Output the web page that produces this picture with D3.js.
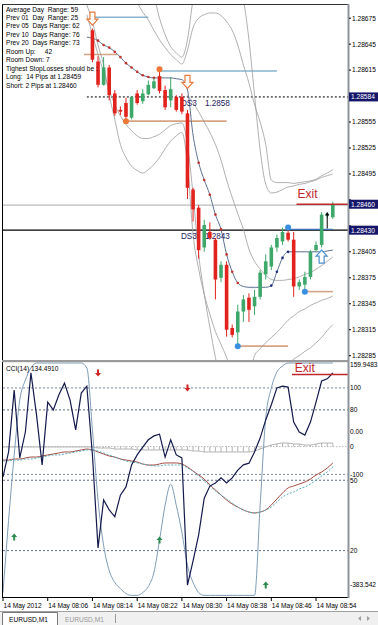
<!DOCTYPE html>
<html>
<head>
<meta charset="utf-8">
<script src="https://cdnjs.cloudflare.com/ajax/libs/d3/7.8.5/d3.min.js"></script>
<style>
  body { margin: 0; background: #fff; }
  svg { display: block; font-family: "Liberation Sans", Arial, sans-serif; }
  svg text { white-space: pre; }
</style>
</head>
<body>
<div id="chart"></div>
<script>
// EURUSD M1, 14 May 2012 07:58 .. 08:57 (bar index 0 = 07:58)

// candles, bars 16..59
const candleStart = 16;
const opens = [1.28661,1.28625,1.28598,1.28618,1.28588,1.28569,1.28577,1.28560,1.28588,1.28579,1.28587,1.28594,1.28608,1.28592,1.28580,1.28584,1.28584,1.28565,1.28477,1.28456,1.28410,1.28428,1.28419,1.28375,1.28390,1.28317,1.28312,1.28336,1.28352,1.28342,1.28353,1.28379,1.28388,1.28410,1.28417,1.28427,1.28419,1.28365,1.28367,1.28376,1.28407,1.28413,1.28447,1.28445];
const highs = [1.28663,1.28631,1.28630,1.28621,1.28592,1.28573,1.28583,1.28585,1.28592,1.28593,1.28603,1.28606,1.28613,1.28597,1.28607,1.28586,1.28588,1.28569,1.28479,1.28459,1.28442,1.28439,1.28421,1.28394,1.28394,1.28321,1.28344,1.28355,1.28357,1.28361,1.28384,1.28402,1.28413,1.28425,1.28433,1.28433,1.28428,1.28373,1.28382,1.28407,1.28417,1.28451,1.28450,1.28463];
const lows = [1.28624,1.28595,1.28597,1.28580,1.28562,1.28563,1.28556,1.28558,1.28575,1.28576,1.28586,1.28593,1.28588,1.28569,1.28572,1.28567,1.28564,1.28466,1.28440,1.28397,1.28405,1.28419,1.28350,1.28370,1.28307,1.28306,1.28296,1.28324,1.28324,1.28332,1.28350,1.28373,1.28384,1.28405,1.28413,1.28417,1.28353,1.28361,1.28359,1.28373,1.28405,1.28410,1.28444,1.28443];
const closes = [1.28627,1.28598,1.28618,1.28586,1.28565,1.28567,1.28561,1.28584,1.28577,1.28588,1.28598,1.28602,1.28591,1.28572,1.28593,1.28569,1.28567,1.28479,1.28454,1.28407,1.28436,1.28421,1.28373,1.28390,1.28315,1.28309,1.28336,1.28350,1.28338,1.28353,1.28381,1.28394,1.28410,1.28421,1.28428,1.28419,1.28365,1.28370,1.28376,1.28405,1.28413,1.28448,1.28449,1.28460];

// trend line with coloured dots, bars 15..59
const trendStart = 15;
const trendLine = [1.28653,1.28652,1.28649,1.28644,1.28641,1.28636,1.28630,1.28623,1.28618,1.28613,1.28609,1.28607,1.28606,1.28606,1.28606,1.28606,1.28605,1.28604,1.28592,1.28540,1.28508,1.28488,1.28471,1.28448,1.28431,1.28402,1.28382,1.28369,1.28365,1.28364,1.28364,1.28364,1.28364,1.28366,1.28382,1.28398,1.28405,1.28405,1.28405,1.28405,1.28405,1.28405,1.28405,1.28406,1.28407];
const trendRedDots = [17,18,19,20,21,22,23,24,25,26,27,28,35,36,37,38,39,40,41,42];
const trendBlueDots = [48,49,50,51];

// envelope bands
const upper1Start = 22;
const upper1 = [1.28713,1.28702,1.28693,1.28682,1.28673,1.28661,1.28650,1.28641,1.28633,1.28627,1.28622,1.28638,1.28664,1.28675,1.28679,1.28681,1.28681,1.28678,1.28671,1.28661,1.28644,1.28621,1.28600,1.28575,1.28555,1.28529,1.28488,1.28485,1.28485,1.28485,1.28484,1.28485,1.28486,1.28487,1.28489,1.28493,1.28496,1.28500];
const upper2Start = 27;
const upper2 = [1.28702,1.28675,1.28656,1.28642,1.28635,1.28630,1.28650,1.28696,1.28719,1.28736,1.28742,1.28742,1.28740,1.28733,1.28725,1.28713,1.28696,1.28650,1.28586,1.28523,1.28483,1.28473,1.28474,1.28477,1.28480,1.28481,1.28483,1.28484,1.28486,1.28488,1.28491,1.28493,1.28495];
const midStart = 33;
const midBand = [1.28586,1.28577,1.28567,1.28555,1.28543,1.28529,1.28511,1.28488,1.28468,1.28449,1.28431,1.28408,1.28394,1.28385,1.28378,1.28373,1.28372,1.28372,1.28373,1.28374,1.28376,1.28379,1.28381,1.28385,1.28389,1.28394,1.28399];
const lowerStart = 15;
const lower1 = [1.28679,1.28656,1.28633,1.28613,1.28592,1.28575,1.28562,1.28552,1.28545,1.28539,1.28536,1.28536,1.28538,1.28541,1.28546,1.28551,1.28553,1.28554,1.28529,1.28471,1.28402,1.28356,1.28318,1.28283,1.28252,1.28234,1.28223,1.28223,1.28234,1.28258,1.28285,1.28293,1.28300,1.28306,1.28312,1.28319,1.28326,1.28331,1.28336,1.28339,1.28343,1.28346,1.28349,1.28351,1.28354];
const lower2 = [1.28690,1.28671,1.28644,1.28621,1.28586,1.28558,1.28529,1.28514,1.28504,1.28499,1.28496,1.28500,1.28506,1.28514,1.28524,1.28533,1.28539,1.28543,1.28506,1.28425,1.28385,1.28356,1.28333,1.28313,1.28298,1.28283,1.28263,1.28240,1.28223,1.28211,1.28211,1.28217,1.28229,1.28240,1.28252,1.28263,1.28275,1.28281,1.28285,1.28290,1.28294,1.28300,1.28306,1.28314,1.28321];

// levels: [fromBar, toBar, price]
const blueSegs = [[16, 26, 1.28676], [28, 49, 1.28614]];
const tanSegs = [[14.5, 20.5, 1.28633], [22, 40, 1.28556], [42, 51, 1.28296], [54, 59, 1.28359]];
const swingSegs = [[51, 59, 1.28431]];
const orangeDots = [[22, 1.28556], [28, 1.28616]];
const blueDots = [[42, 1.28296], [51, 1.28433], [54, 1.28359]];
const hollowDown = [[16, 1.28682], [33, 1.28609]];
const hollowUp = [[57, 1.28407]];
const buyArrow = [58, 1.28432, 1.28450];
const dsLabels = [[32, 1.28577, "DS3", "1.2858"], [32, 1.28423, "DS3", "1.2843"]];
const longPrice = 1.28459, shortPrice = 1.28460, openLine = 1.28430, dayLine = 1.28584;
const exitFrom = 52.5;

const infoLines = [
  "Average Day  Range: 59",
  "Prev 01  Day  Range: 25",
  "Prev 05  Days Range: 62",
  "Prev 10  Days Range: 76",
  "Prev 20  Days Range: 73",
  "Room Up:     42",
  "Room Down: 7",
  "Tighest StopLosses should be :",
  "Long:  14 Pips at 1.28459",
  "Short: 2 Pips at 1.28460"
];

const priceTicks = [1.28675,1.28645,1.28615,1.28585,1.28555,1.28525,1.28495,1.28465,1.28435,1.28405,1.28375,1.28345,1.28315,1.28285];
const priceBoxes = [dayLine, shortPrice, openLine];

// lower window, bars 0..59
const cci = [-106,-48,95,-62,-2,135,37,-78,67,49,84,111,72,3,88,104,-55,-270,-159,-182,-198,-148,-129,-78,-55,-37,-20,-11,-7,-60,-20,-55,-62,-356,-300,-240,-155,-127,-120,-108,-120,-108,-90,-78,-74,-48,-16,26,61,100,104,102,21,-2,-9,21,67,116,121,134.491];
const stoch = [2.1,32.9,60.7,84.2,92.7,97.9,100,100,100,100,100,100,100,100,100,97.9,71.4,41.5,22.2,11.5,6.4,3.8,1.7,0.9,0.9,2.1,4.7,10.7,24.4,39.3,48.3,39.3,27.8,13.7,6.4,2.1,0.9,0.9,0.9,0.9,0.9,0.9,0.9,0.9,0.9,0.9,39.3,76.5,89.3,96.2,98.7,100,100,100,100,100,100,100,100,100];
const macd = [-14.3,-14.3,-13.2,-13.2,-12.1,-11.1,-11.1,-10.0,-8.9,-7.9,-6.8,-5.7,-5.7,-4.7,-3.6,-2.6,-3.6,-5.7,-7.9,-10.0,-11.1,-13.2,-14.3,-15.3,-16.4,-18.5,-19.6,-19.6,-18.5,-17.4,-17.4,-17.4,-18.5,-21.7,-26.0,-30.2,-34.5,-40.8,-46.2,-51.5,-56.8,-61.1,-64.3,-67.4,-69.6,-70.6,-69.6,-67.4,-62.1,-55.7,-49.4,-44.0,-41.9,-39.8,-37.7,-34.5,-30.2,-27.0,-22.8,-17.4];
const signal = [-15.3,-15.3,-14.3,-14.3,-13.2,-13.2,-12.1,-11.1,-10.0,-8.9,-8.9,-7.9,-6.8,-5.7,-4.7,-3.6,-3.6,-4.7,-6.8,-8.9,-11.1,-13.2,-15.3,-16.4,-17.4,-18.5,-19.6,-20.6,-20.6,-19.6,-19.6,-19.6,-19.6,-22.8,-26.0,-31.3,-36.6,-41.9,-47.2,-51.5,-55.7,-60.0,-64.3,-67.4,-69.6,-70.6,-69.6,-67.4,-64.3,-58.9,-53.6,-50.4,-48.3,-45.1,-43.0,-39.8,-35.5,-31.3,-27.0,-21.7];
const histo = [-0.4,-0.4,-0.4,-0.4,-0.4,-0.4,-0.4,-0.4,-0.4,-0.4,-0.4,-0.4,-0.4,-0.4,-0.4,-0.4,-0.4,-1.5,-1.5,-1.5,-2.6,-2.6,-2.6,-2.6,-3.6,-3.6,-3.6,-3.6,-3.6,-3.6,-3.6,-3.6,-3.6,-3.6,-4.7,-4.7,-5.7,-5.7,-5.7,-5.7,-5.7,-5.7,-5.7,-5.7,-5.7,-4.7,-2.6,-0.4,1.7,2.8,3.8,3.8,2.8,2.8,1.7,1.7,2.8,3.8,3.8,3.8];
const sellSignals = [[17, 95.7], [33, 89.3]];
const buySignals = [[2, 25.8], [28, 24.5], [47, 5.3]];
const cciExit = 131;

const cciTicks = [[159.9483, "159.9483"], [100, "100"], [0, "0.00"], [-100, "-100"], [-383.542, "-383.542"]];
const stochLevels = [80, 50, 20];
const cciLevels = [100, -100];

const timeBars = [0, 8, 16, 24, 32, 40, 48, 56];
const timeLabels = ["14 May 2012", "14 May 08:06", "14 May 08:14", "14 May 08:22", "14 May 08:30", "14 May 08:38", "14 May 08:46", "14 May 08:54"];

// ---------- chart ----------
const width = 378, height = 625;
const L = 3, axisX = 348;
const mainTop = 4, mainBot = 360, subTop = 362, subBot = 597;
const fs = 6.6;

const svg = d3.select("#chart").append("svg").attr("width", width).attr("height", height);

const x = d3.scaleLinear().domain([0, 60]).range([3, 338.4]);
const y = d3.scaleLinear().domain([1.2828, 1.28696]).range([360, 0]);
const yCci = d3.scaleLinear().domain([-383.542, 159.9483]).range([subBot, subTop]);
const yStoch = d3.scaleLinear().domain([0, 100]).range([597.5, 363]);
const yMacd = d3.scaleLinear().domain([-160, 90]).range([subBot, subTop]);

const defs = svg.append("defs");
defs.append("clipPath").attr("id", "clipMain").append("rect")
  .attr("x", L).attr("y", mainTop).attr("width", axisX - L).attr("height", mainBot - mainTop);
defs.append("clipPath").attr("id", "clipSub").append("rect")
  .attr("x", L).attr("y", subTop).attr("width", axisX - L).attr("height", subBot - subTop);

const series = (start, vals) => vals.map((v, i) => [start + i, v]);
const smoothPrice = d3.line().curve(d3.curveMonotoneX).x(d => x(d[0])).y(d => y(d[1]));

// ---- main window ----
const gMain = svg.append("g").attr("clip-path", "url(#clipMain)");

gMain.append("line").attr("x1", L).attr("x2", axisX).attr("y1", y(longPrice)).attr("y2", y(longPrice))
  .attr("stroke", "#a9a9a9").attr("stroke-width", 1);
gMain.append("line").attr("x1", x(15)).attr("x2", axisX).attr("y1", y(dayLine)).attr("y2", y(dayLine))
  .attr("stroke", "#000").attr("stroke-dasharray", "2,2");
gMain.append("line").attr("x1", L).attr("x2", axisX).attr("y1", y(openLine)).attr("y2", y(openLine))
  .attr("stroke", "#000").attr("stroke-width", 1.3);

gMain.selectAll(".bseg").data(blueSegs).join("line")
  .attr("x1", d => x(d[0])).attr("x2", d => x(d[1])).attr("y1", d => y(d[2])).attr("y2", d => y(d[2]))
  .attr("stroke", "#86b4cf").attr("stroke-width", 1.6);
gMain.selectAll(".tseg").data(tanSegs).join("line")
  .attr("x1", d => x(d[0])).attr("x2", d => x(d[1])).attr("y1", d => y(d[2])).attr("y2", d => y(d[2]))
  .attr("stroke", "#d6a483").attr("stroke-width", 1.6);
gMain.selectAll(".sseg").data(swingSegs).join("line")
  .attr("x1", d => x(d[0])).attr("x2", d => x(d[1])).attr("y1", d => y(d[2])).attr("y2", d => y(d[2]))
  .attr("stroke", "#3f6fb5").attr("stroke-width", 1.3);

// bands
[[upper1Start, upper1], [upper2Start, upper2], [midStart, midBand], [lowerStart, lower1], [lowerStart, lower2]]
  .forEach(([s, v]) => {
    gMain.append("path").attr("d", smoothPrice(series(s, v)))
      .attr("fill", "none").attr("stroke", "#9c9c9c").attr("stroke-width", 0.8);
  });

// trend line + dots
gMain.append("path").attr("d", smoothPrice(series(trendStart, trendLine)))
  .attr("fill", "none").attr("stroke", "#5d7190").attr("stroke-width", 1);
gMain.selectAll(".rdot").data(trendRedDots).join("circle")
  .attr("cx", d => x(d)).attr("cy", d => y(trendLine[d - trendStart])).attr("r", 1.3).attr("fill", "#c2312a");
gMain.selectAll(".bdot").data(trendBlueDots).join("circle")
  .attr("cx", d => x(d)).attr("cy", d => y(trendLine[d - trendStart])).attr("r", 1.3).attr("fill", "#1d2d7d");

// DS3 labels (under candles)
dsLabels.forEach(([b, p, a, t]) => {
  gMain.append("text").attr("x", x(b) - 1).attr("y", y(p) + 3).attr("font-size", 8.2).attr("fill", "#1e2060").text(a);
  gMain.append("text").attr("x", x(b) + 23).attr("y", y(p) + 3).attr("font-size", 8.2).attr("fill", "#1e2060").text(t);
});

// candles
const candles = opens.map((o, i) => ({ bar: candleStart + i, o, h: highs[i], l: lows[i], c: closes[i] }));
const bull = "#3ea86b", bear = "#e2221c";
const gC = gMain.append("g").selectAll("g").data(candles).join("g");
gC.append("line")
  .attr("x1", d => x(d.bar)).attr("x2", d => x(d.bar))
  .attr("y1", d => y(d.h)).attr("y2", d => y(d.l))
  .attr("stroke", d => d.c >= d.o ? bull : bear).attr("stroke-width", 1);
gC.append("rect")
  .attr("x", d => x(d.bar) - 1.8).attr("width", 3.6)
  .attr("y", d => Math.min(y(d.o), y(d.c)))
  .attr("height", d => Math.max(1, Math.abs(y(d.o) - y(d.c))))
  .attr("fill", d => d.c >= d.o ? bull : bear);

// markers
gMain.selectAll(".odot").data(orangeDots).join("circle")
  .attr("cx", d => x(d[0])).attr("cy", d => y(d[1])).attr("r", 3).attr("fill", "#f07636");
gMain.selectAll(".bldot").data(blueDots).join("circle")
  .attr("cx", d => x(d[0])).attr("cy", d => y(d[1])).attr("r", 3).attr("fill", "#3b8fe2");

const downShape = "M-2.5,0 L2.5,0 L2.5,7 L5.5,7 L0,13 L-5.5,7 L-2.5,7 Z";
const upShape = "M0,0 L5.5,6 L2.5,6 L2.5,13 L-2.5,13 L-2.5,6 L-5.5,6 Z";
gMain.selectAll(".hdown").data(hollowDown).join("path")
  .attr("d", downShape).attr("transform", d => `translate(${x(d[0])},${y(d[1])})`)
  .attr("fill", "#fff").attr("stroke", "#e57a3c").attr("stroke-width", 1.2);
gMain.selectAll(".hup").data(hollowUp).join("path")
  .attr("d", upShape).attr("transform", d => `translate(${x(d[0])},${y(d[1])})`)
  .attr("fill", "#fff").attr("stroke", "#4a8fd0").attr("stroke-width", 1.2);

gMain.append("line").attr("x1", x(buyArrow[0])).attr("x2", x(buyArrow[0]))
  .attr("y1", y(buyArrow[1])).attr("y2", y(buyArrow[2])).attr("stroke", "#000").attr("stroke-width", 1);
gMain.append("path")
  .attr("d", `M${x(buyArrow[0])},${y(buyArrow[2]) - 1} l-2,3.5 l4,0 Z`).attr("fill", "#000");

// exit
gMain.append("line").attr("x1", x(exitFrom)).attr("x2", axisX).attr("y1", y(shortPrice)).attr("y2", y(shortPrice))
  .attr("stroke", "#c0262a").attr("stroke-width", 1.6);
gMain.append("text").attr("x", x(exitFrom) + 1).attr("y", y(shortPrice) - 6)
  .attr("font-size", 12).attr("fill", "#c0262a").text("Exit");

// info text
svg.append("g").selectAll("text").data(infoLines).join("text")
  .attr("x", 6).attr("y", (d, i) => 11.5 + i * 8.45)
  .attr("font-size", fs).attr("fill", "#000").text(d => d);

// ---- lower window ----
const gSub = svg.append("g").attr("clip-path", "url(#clipSub)");

gSub.selectAll(".cl").data(cciLevels).join("line")
  .attr("x1", L).attr("x2", axisX).attr("y1", d => yCci(d)).attr("y2", d => yCci(d))
  .attr("stroke", "#7d8a98").attr("stroke-dasharray", "2,2");
gSub.selectAll(".sl").data(stochLevels).join("line")
  .attr("x1", L).attr("x2", axisX).attr("y1", d => yStoch(d)).attr("y2", d => yStoch(d))
  .attr("stroke", "#5f6e7e").attr("stroke-dasharray", "2,2");
gSub.append("line").attr("x1", L).attr("x2", axisX).attr("y1", yMacd(0)).attr("y2", yMacd(0))
  .attr("stroke", "#b9b9b9").attr("stroke-dasharray", "1.5,1.5");

gSub.selectAll(".hb").data(histo).join("line")
  .attr("x1", (d, i) => x(i)).attr("x2", (d, i) => x(i))
  .attr("y1", yMacd(0)).attr("y2", d => yMacd(d))
  .attr("stroke", "#b3b3b3").attr("stroke-width", 1);
const lineOf = (sc, curve) => d3.line().curve(curve).x((d, i) => x(i)).y(d => sc(d));
gSub.append("path").attr("d", lineOf(yMacd, d3.curveMonotoneX)(histo))
  .attr("fill", "none").attr("stroke", "#b3b3b3").attr("stroke-width", 1);
gSub.append("path").attr("d", lineOf(yMacd, d3.curveMonotoneX)(macd))
  .attr("fill", "none").attr("stroke", "#a54a40").attr("stroke-width", 1);
gSub.append("path").attr("d", lineOf(yMacd, d3.curveMonotoneX)(signal))
  .attr("fill", "none").attr("stroke", "#59b0bd").attr("stroke-width", 1).attr("stroke-dasharray", "2,1.5");
gSub.append("path").attr("d", lineOf(yStoch, d3.curveMonotoneX)(stoch))
  .attr("fill", "none").attr("stroke", "#7e9cb6").attr("stroke-width", 1);
gSub.append("path").attr("d", lineOf(yCci, d3.curveLinear)(cci))
  .attr("fill", "none").attr("stroke", "#141a4c").attr("stroke-width", 1.2);

const smallDown = "M-1,-3.5 L1,-3.5 L1,0 L3,0 L0,3.5 L-3,0 L-1,0 Z";
const smallUp = "M0,-3.5 L3,0 L1,0 L1,3.5 L-1,3.5 L-1,0 L-3,0 Z";
gSub.selectAll(".sell").data(sellSignals).join("path")
  .attr("d", smallDown).attr("transform", d => `translate(${x(d[0])},${yStoch(d[1])})`).attr("fill", "#d42121");
gSub.selectAll(".buy").data(buySignals).join("path")
  .attr("d", smallUp).attr("transform", d => `translate(${x(d[0])},${yStoch(d[1])})`).attr("fill", "#2b8a4c");

gSub.append("line").attr("x1", x(51.7)).attr("x2", axisX).attr("y1", yCci(cciExit)).attr("y2", yCci(cciExit))
  .attr("stroke", "#c0262a").attr("stroke-width", 1.6);
gSub.append("text").attr("x", x(52.2)).attr("y", yCci(cciExit) - 2.5)
  .attr("font-size", 12).attr("fill", "#c0262a").text("Exit");

svg.append("text").attr("x", 6).attr("y", 370.5).attr("font-size", fs).attr("fill", "#000")
  .text(`CCI(14) ${cci[cci.length - 1].toFixed(4)}`);

// ---- frames ----
svg.append("line").attr("x1", 2.5).attr("x2", 2.5).attr("y1", mainTop).attr("y2", subBot).attr("stroke", "#000");
svg.append("line").attr("x1", 2).attr("x2", axisX).attr("y1", 4.5).attr("y2", 4.5).attr("stroke", "#333");
svg.append("rect").attr("x", 2).attr("y", 360).attr("width", axisX - 2).attr("height", 2.2).attr("fill", "#9a9a9a");
svg.append("line").attr("x1", 2).attr("x2", axisX).attr("y1", subBot + 0.5).attr("y2", subBot + 0.5).attr("stroke", "#000");
svg.append("line").attr("x1", axisX + 0.5).attr("x2", axisX + 0.5).attr("y1", mainTop).attr("y2", subBot + 1)
  .attr("stroke", "#8e939c").attr("stroke-width", 2);

// ---- price axis ----
// grid labels hidden behind the line boxes are left out, as on the terminal
const visibleTicks = priceTicks.filter(p => priceBoxes.every(b => Math.abs(y(p) - y(b)) > 8));
const gAxis = svg.append("g");
gAxis.selectAll(".pt").data(visibleTicks).join("text")
  .attr("x", 352).attr("y", d => y(d) + 2.4).attr("font-size", fs).attr("fill", "#000").text(d => d.toFixed(5));
gAxis.selectAll(".ptk").data(priceTicks).join("line")
  .attr("x1", axisX + 1).attr("x2", axisX + 3).attr("y1", d => y(d)).attr("y2", d => y(d)).attr("stroke", "#000");
const boxes = gAxis.selectAll(".pb").data(priceBoxes).join("g");
boxes.append("rect").attr("x", axisX + 1).attr("y", d => y(d) - 4.5).attr("width", 29).attr("height", 9).attr("fill", "#15166a");
boxes.append("text").attr("x", 351).attr("y", d => y(d) + 2.4).attr("font-size", fs).attr("fill", "#fff").text(d => d.toFixed(5));

const subLabels = cciTicks.map(([v, t]) => [yCci(v), t])
  .concat(stochLevels.map(v => [yStoch(v), String(v)]))
  .concat([[yMacd(0), "0"]]);
gAxis.selectAll(".st").data(subLabels).join("text")
  .attr("x", 350).attr("y", d => Math.min(Math.max(d[0], 365), 585) + 2.4)
  .attr("font-size", fs).attr("fill", "#000").text(d => d[1]);

// ---- time axis ----
svg.selectAll(".tt").data(timeBars).join("line")
  .attr("x1", d => x(d)).attr("x2", d => x(d)).attr("y1", subBot).attr("y2", subBot + 4).attr("stroke", "#000");
svg.selectAll(".tl").data(timeBars).join("text")
  .attr("x", d => x(d) + 0.5).attr("y", 608).attr("font-size", fs).attr("fill", "#000")
  .text((d, i) => timeLabels[i]);

// ---- tabs ----
svg.append("rect").attr("x", 0).attr("y", 611).attr("width", width).attr("height", 14).attr("fill", "#f0f0f0");
svg.append("line").attr("x1", 0).attr("x2", width).attr("y1", 611.5).attr("y2", 611.5).attr("stroke", "#a0a0a0");
svg.append("path").attr("d", "M2.5,625 V612.5 H57.5 V625").attr("fill", "#fff").attr("stroke", "#7a7a7a");
svg.append("text").attr("x", 9).attr("y", 621.5).attr("font-size", fs).attr("fill", "#000").text("EURUSD,M1");
svg.append("text").attr("x", 65).attr("y", 621.5).attr("font-size", fs).attr("fill", "#9a9a9a").text("EURUSD,M1");
svg.append("line").attr("x1", 115.5).attr("x2", 115.5).attr("y1", 614).attr("y2", 623).attr("stroke", "#9a9a9a");
svg.append("path").attr("d", "M361,616 l-3,2.5 l3,2.5 Z M367,616 l3,2.5 l-3,2.5 Z").attr("fill", "#a0a0a0");
</script>
</body>
</html>
